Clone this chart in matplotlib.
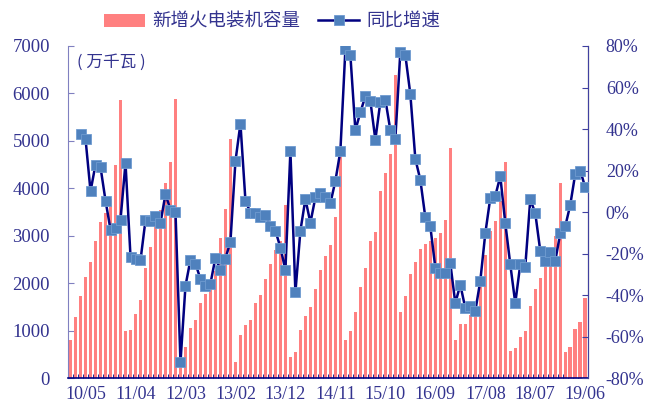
import matplotlib
matplotlib.use("Agg")
import matplotlib.pyplot as plt
import numpy as np

plt.rcParams['font.family'] = ['Liberation Serif', 'Noto Sans CJK SC', 'DejaVu Sans']

# monthly data from 2010/02 to 2019/06, January not reported (Jan-Feb combined)
months = []
for y in range(2010, 2020):
    for m in range(2, 13):
        if y == 2019 and m > 6:
            break
        months.append("%02d/%02d" % (y % 100, m))

# 新增火电装机容量 (万千瓦)
capacity = [800, 1280, 1730, 2140, 2440, 2890, 3300, 3490, 3770, 4500, 5870,
            990, 1010, 1350, 1640, 2330, 2770, 3230, 3550, 4110, 4560, 5890,
            350, 660, 1050, 1230, 1580, 1780, 1940, 2260, 2950, 3560, 5050,
            340, 910, 1110, 1230, 1580, 1750, 2090, 2410, 2700, 2890, 3650,
            440, 560, 1010, 1300, 1490, 1880, 2280, 2570, 2810, 3390, 4750,
            800, 990, 1390, 1920, 2330, 2890, 3080, 3940, 4330, 4730, 6390,
            1390, 1730, 2190, 2440, 2720, 2820, 2880, 2950, 3060, 3340, 4840,
            800, 1130, 1150, 1330, 1420, 2000, 2600, 3110, 3320, 3740, 4560,
            580, 630, 870, 990, 1520, 1880, 2110, 2540, 2610, 3000, 4110,
            560, 650, 1040, 1180, 1680]

# 同比增速 (%), starts from 2010/04
growth = [None, None,
          37.4, 35.2, 10.0, 22.9, 21.6, 5.5, -8.5, -7.7, -3.7,
          23.7, -21.5, -22.4, -23.2, -3.9, -4.2, -1.9, -5.3, 8.7, 1.0, 0.2,
          -72.4, -35.6, -22.9, -24.8, -32.3, -35.6, -34.5, -21.9, -28.1, -22.4, -14.2,
          24.5, 42.6, 5.5, -0.3, -0.3, -2.6, -1.5, -6.8, -9.0, -17.1, -27.9,
          29.4, -38.7, -9.0, 6.3, -5.2, 7.1, 9.0, 7.4, 4.2, 15.0, 29.4,
          78.4, 75.6, 39.4, 48.1, 55.8, 53.6, 34.8, 53.1, 54.2, 39.4, 35.3,
          77.3, 75.6, 56.8, 25.6, 15.5, -2.6, -6.9, -26.8, -29.5, -29.5, -24.7,
          -43.9, -35.0, -46.3, -45.5, -47.7, -33.2, -10.3, 6.8, 7.7, 17.3, -5.3,
          -25.2, -43.9, -25.2, -26.3, 6.1, -0.5, -18.7, -23.5, -19.2, -23.5, -10.3,
          -6.9, 3.4, 18.4, 20.0, 11.9]

txt = '#33338f'
navy = '#000080'

x = np.arange(len(months))
g = np.array([np.nan if v is None else v for v in growth])

fig = plt.figure(figsize=(6.48, 4.07), dpi=100)
ax = fig.add_axes([0.105, 0.071, 0.802, 0.816])
ax2 = ax.twinx()

bars = ax.bar(x, capacity, width=0.7, color='#ff8080', zorder=2)
line, = ax2.plot(x, g, color=navy, lw=1.8, marker='s', markersize=6.5,
                 markerfacecolor='#4f81bd', markeredgecolor='#6f9bd0',
                 markeredgewidth=0.6, zorder=3)

ax.set_xlim(-0.5, len(months) - 0.5)
ax.set_ylim(0, 7000)
ax2.set_ylim(-80, 80)
ax.set_yticks(range(0, 7001, 1000))
ax2.set_yticks(range(-80, 81, 20))
ax2.set_yticklabels(["%d%%" % v for v in range(-80, 81, 20)])

pos = list(range(3, len(months), 10))
ax.set_xticks(pos)
ax.set_xticklabels([months[p] for p in pos])
ax.set_xticks(np.arange(-0.5, len(months), 1), minor=True)

for a in (ax, ax2):
    a.spines['top'].set_visible(False)
ax.spines['left'].set_color('#8080c0')
ax.spines['bottom'].set_color(navy)
ax.spines['bottom'].set_linewidth(1.2)
ax2.spines['right'].set_color('#4040a0')
ax2.spines['left'].set_visible(False)
ax2.spines['bottom'].set_visible(False)

ax.tick_params(axis='y', direction='in', length=4, color='#8080c0',
               labelsize=13.5, labelcolor=txt, pad=13)
ax2.tick_params(axis='y', direction='in', length=4, color='#4040a0',
                labelsize=13, labelcolor=txt, pad=13)
ax.tick_params(axis='x', which='major', length=0, labelsize=13,
               labelcolor=txt, pad=6)
ax.tick_params(axis='x', which='minor', direction='in', length=3, color=navy)

ax.text(0.017, 0.975, '( 万千瓦 )', transform=ax.transAxes, fontsize=12,
        color=txt, va='top', ha='left', family=['Noto Sans CJK SC'])

fig.legend([bars, line], ['新增火电装机容量', '同比增速'], loc='upper center',
           bbox_to_anchor=(0.42, 1.01), ncol=2, frameon=False,
           prop={'family': ['Noto Sans CJK SC'], 'size': 13.3},
           labelcolor=txt, handlelength=2.2, columnspacing=1.0,
           handletextpad=0.4)

fig.savefig('out.png', dpi=100)
